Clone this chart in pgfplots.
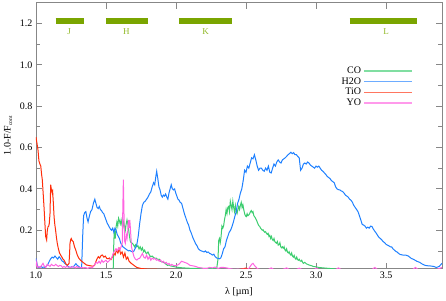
\documentclass[border=0pt]{standalone}
\usepackage{pgfplots}
\pgfplotsset{compat=1.18}
\usepackage{pgfplotstable}
\usepackage{fontspec}
\setmainfont{Liberation Serif}
\definecolor{coc}{RGB}{60,205,110}
\definecolor{h2oc}{RGB}{30,128,255}
\definecolor{tioc}{RGB}{255,45,10}
\definecolor{yoc}{RGB}{255,100,225}
\definecolor{bandc}{RGB}{122,165,0}
\definecolor{bandl}{RGB}{145,185,40}
\definecolor{axc}{RGB}{135,135,135}

\pgfplotstableread{
x y
1.000 0.064
1.008 0.035
1.015 0.022
1.025 0.020
1.035 0.025
1.045 0.020
1.055 0.022
1.065 0.020
1.075 0.028
1.085 0.035
1.095 0.050
1.105 0.062
1.115 0.070
1.125 0.066
1.135 0.075
1.145 0.068
1.155 0.060
1.165 0.072
1.175 0.064
1.185 0.052
1.195 0.048
1.205 0.040
1.215 0.035
1.225 0.028
1.235 0.022
1.245 0.020
1.255 0.024
1.265 0.022
1.275 0.030
1.285 0.038
1.295 0.030
1.305 0.025
1.318 0.018
1.326 0.020
1.334 0.180
1.340 0.270
1.348 0.285
1.356 0.290
1.364 0.260
1.372 0.240
1.380 0.265
1.390 0.290
1.400 0.300
1.410 0.330
1.420 0.350
1.428 0.330
1.436 0.310
1.445 0.305
1.452 0.315
1.460 0.300
1.468 0.295
1.476 0.285
1.484 0.280
1.492 0.265
1.500 0.250
1.508 0.235
1.516 0.225
1.524 0.215
1.532 0.205
1.540 0.200
1.548 0.210
1.556 0.190
1.564 0.210
1.572 0.200
1.580 0.180
1.588 0.170
1.596 0.160
1.604 0.140
1.612 0.130
1.620 0.120
1.630 0.115
1.640 0.110
1.650 0.105
1.660 0.100
1.670 0.102
1.680 0.098
1.690 0.095
1.700 0.100
1.710 0.115
1.720 0.130
1.730 0.170
1.740 0.230
1.750 0.280
1.760 0.320
1.770 0.335
1.780 0.340
1.790 0.350
1.800 0.360
1.810 0.375
1.820 0.385
1.830 0.410
1.840 0.430
1.848 0.420
1.856 0.460
1.862 0.485
1.870 0.450
1.878 0.410
1.886 0.395
1.894 0.370
1.902 0.360
1.910 0.370
1.918 0.365
1.926 0.375
1.934 0.360
1.942 0.350
1.950 0.380
1.958 0.400
1.966 0.420
1.974 0.400
1.982 0.395
1.990 0.400
1.998 0.380
2.006 0.365
2.014 0.350
2.022 0.345
2.030 0.335
2.040 0.330
2.050 0.305
2.060 0.280
2.070 0.260
2.080 0.240
2.090 0.225
2.100 0.200
2.110 0.185
2.120 0.165
2.130 0.150
2.140 0.135
2.150 0.125
2.160 0.110
2.170 0.104
2.180 0.100
2.190 0.098
2.200 0.095
2.210 0.100
2.220 0.092
2.230 0.095
2.240 0.088
2.250 0.085
2.260 0.080
2.270 0.084
2.280 0.072
2.290 0.066
2.300 0.064
2.310 0.062
2.320 0.066
2.330 0.085
2.340 0.110
2.350 0.120
2.360 0.150
2.370 0.170
2.380 0.190
2.390 0.200
2.400 0.218
2.410 0.240
2.420 0.266
2.430 0.290
2.440 0.330
2.450 0.350
2.460 0.380
2.470 0.400
2.480 0.440
2.490 0.490
2.500 0.480
2.510 0.510
2.520 0.500
2.530 0.525
2.540 0.550
2.550 0.545
2.560 0.565
2.570 0.540
2.580 0.510
2.590 0.490
2.600 0.500
2.610 0.500
2.620 0.490
2.630 0.485
2.640 0.500
2.650 0.490
2.660 0.510
2.670 0.480
2.680 0.477
2.690 0.500
2.700 0.520
2.710 0.510
2.720 0.530
2.730 0.540
2.740 0.530
2.750 0.525
2.760 0.540
2.770 0.545
2.780 0.550
2.790 0.557
2.800 0.565
2.810 0.570
2.820 0.577
2.830 0.570
2.840 0.575
2.850 0.565
2.860 0.565
2.870 0.557
2.880 0.550
2.890 0.490
2.900 0.500
2.910 0.520
2.920 0.525
2.930 0.520
2.940 0.530
2.950 0.525
2.960 0.515
2.970 0.510
2.980 0.505
2.990 0.500
3.000 0.510
3.010 0.505
3.020 0.510
3.030 0.500
3.040 0.490
3.050 0.485
3.060 0.477
3.070 0.470
3.080 0.460
3.090 0.455
3.100 0.450
3.110 0.440
3.120 0.435
3.130 0.430
3.140 0.410
3.150 0.400
3.160 0.396
3.170 0.395
3.180 0.390
3.190 0.387
3.200 0.380
3.210 0.370
3.220 0.365
3.230 0.360
3.240 0.350
3.250 0.345
3.260 0.335
3.270 0.320
3.280 0.310
3.290 0.300
3.300 0.290
3.310 0.270
3.320 0.250
3.330 0.228
3.340 0.225
3.350 0.220
3.360 0.210
3.370 0.215
3.380 0.210
3.390 0.220
3.400 0.218
3.410 0.205
3.420 0.195
3.430 0.186
3.440 0.175
3.450 0.165
3.460 0.160
3.470 0.153
3.480 0.145
3.490 0.140
3.500 0.132
3.510 0.128
3.520 0.125
3.530 0.120
3.540 0.120
3.550 0.110
3.560 0.104
3.570 0.098
3.580 0.094
3.590 0.088
3.600 0.083
3.620 0.080
3.640 0.080
3.660 0.075
3.680 0.064
3.700 0.058
3.720 0.050
3.740 0.045
3.760 0.036
3.780 0.030
3.800 0.028
3.820 0.027
3.840 0.025
3.860 0.020
3.880 0.025
3.900 0.040
}\htwoo

\pgfplotstableread{
x y
1.545 0.005
1.552 0.020
1.556 0.150
1.560 0.200
1.566 0.160
1.572 0.217
1.578 0.240
1.584 0.220
1.590 0.258
1.596 0.245
1.602 0.230
1.608 0.250
1.614 0.226
1.620 0.210
1.626 0.240
1.632 0.220
1.638 0.200
1.644 0.230
1.650 0.250
1.656 0.230
1.662 0.200
1.668 0.170
1.674 0.145
1.680 0.140
1.688 0.137
1.696 0.130
1.704 0.120
1.712 0.130
1.720 0.120
1.728 0.125
1.736 0.110
1.744 0.120
1.752 0.104
1.760 0.115
1.768 0.096
1.776 0.104
1.784 0.090
1.792 0.088
1.800 0.095
1.810 0.080
1.820 0.072
1.830 0.075
1.840 0.068
1.850 0.064
1.860 0.065
1.870 0.058
1.880 0.060
1.890 0.050
1.900 0.048
1.910 0.045
1.920 0.040
1.930 0.035
1.940 0.030
1.950 0.032
1.960 0.028
1.980 0.025
2.000 0.022
2.020 0.020
2.050 0.018
2.100 0.016
2.150 0.015
2.200 0.015
2.250 0.015
2.290 0.012
2.300 0.060
2.305 0.150
2.310 0.160
2.316 0.140
2.322 0.170
2.328 0.220
2.334 0.210
2.340 0.220
2.346 0.250
2.352 0.270
2.358 0.300
2.364 0.280
2.370 0.310
2.376 0.315
2.382 0.290
2.388 0.340
2.394 0.320
2.400 0.300
2.406 0.340
2.412 0.310
2.418 0.290
2.424 0.320
2.430 0.290
2.436 0.280
2.442 0.300
2.448 0.315
2.454 0.300
2.460 0.320
2.466 0.335
2.472 0.310
2.478 0.323
2.484 0.300
2.490 0.280
2.496 0.270
2.502 0.266
2.508 0.280
2.514 0.270
2.520 0.274
2.526 0.280
2.532 0.290
2.538 0.295
2.544 0.285
2.550 0.290
2.556 0.270
2.562 0.265
2.568 0.258
2.574 0.250
2.580 0.240
2.586 0.230
2.592 0.222
2.598 0.218
2.604 0.210
2.610 0.205
2.616 0.200
2.622 0.202
2.628 0.195
2.634 0.190
2.640 0.193
2.646 0.185
2.652 0.180
2.658 0.185
2.664 0.170
2.670 0.175
2.676 0.160
2.682 0.170
2.688 0.155
2.694 0.150
2.700 0.160
2.706 0.145
2.712 0.140
2.718 0.137
2.724 0.145
2.730 0.128
2.736 0.130
2.742 0.140
2.748 0.120
2.754 0.115
2.760 0.120
2.766 0.113
2.772 0.120
2.778 0.105
2.784 0.100
2.790 0.110
2.796 0.095
2.802 0.090
2.808 0.096
2.814 0.085
2.820 0.080
2.826 0.090
2.832 0.075
2.838 0.070
2.844 0.078
2.850 0.065
2.856 0.060
2.862 0.070
2.868 0.058
2.874 0.055
2.880 0.060
2.886 0.052
2.892 0.050
2.898 0.055
2.904 0.045
2.910 0.040
2.920 0.045
2.930 0.038
2.940 0.035
2.950 0.032
2.960 0.030
2.970 0.028
2.980 0.025
3.000 0.023
3.020 0.020
3.050 0.018
3.100 0.015
3.150 0.012
3.200 0.005
}\co

\pgfplotstableread{
x y
1.000 0.650
1.007 0.620
1.014 0.590
1.021 0.535
1.028 0.520
1.034 0.510
1.040 0.470
1.045 0.444
1.051 0.380
1.057 0.315
1.063 0.240
1.069 0.170
1.076 0.153
1.081 0.200
1.086 0.217
1.091 0.220
1.095 0.234
1.100 0.280
1.105 0.420
1.109 0.400
1.112 0.396
1.116 0.380
1.119 0.387
1.124 0.330
1.129 0.266
1.134 0.230
1.140 0.200
1.146 0.165
1.152 0.137
1.160 0.110
1.168 0.090
1.176 0.080
1.185 0.070
1.193 0.060
1.200 0.056
1.208 0.045
1.216 0.035
1.224 0.031
1.231 0.035
1.236 0.040
1.240 0.090
1.243 0.137
1.248 0.155
1.252 0.160
1.258 0.150
1.266 0.145
1.275 0.120
1.284 0.104
1.295 0.080
1.307 0.064
1.318 0.055
1.330 0.048
1.345 0.040
1.360 0.032
1.375 0.030
1.390 0.028
1.405 0.026
1.418 0.030
1.426 0.045
1.435 0.060
1.445 0.072
1.455 0.065
1.465 0.078
1.474 0.080
1.485 0.070
1.495 0.075
1.505 0.064
1.515 0.062
1.525 0.066
1.535 0.058
1.545 0.070
1.555 0.090
1.565 0.080
1.575 0.105
1.585 0.090
1.595 0.110
1.605 0.085
1.615 0.095
1.625 0.070
1.635 0.090
1.645 0.060
1.655 0.070
1.665 0.050
1.680 0.040
1.700 0.030
1.720 0.020
1.750 0.015
1.800 0.012
2.000 0.010
2.450 0.010
2.500 0.017
2.520 0.012
2.600 0.010
3.900 0.010
}\tio

\pgfplotstableread{
x y
1.000 0.025
1.005 0.045
1.010 0.020
1.020 0.025
1.030 0.020
1.040 0.030
1.050 0.040
1.060 0.025
1.070 0.020
1.080 0.035
1.090 0.030
1.100 0.025
1.110 0.035
1.120 0.030
1.130 0.028
1.140 0.035
1.150 0.030
1.160 0.025
1.170 0.030
1.180 0.028
1.190 0.020
1.200 0.025
1.210 0.020
1.220 0.025
1.230 0.022
1.240 0.020
1.250 0.020
1.260 0.025
1.270 0.022
1.280 0.018
1.290 0.025
1.300 0.020
1.310 0.022
1.320 0.018
1.330 0.020
1.340 0.018
1.350 0.020
1.360 0.018
1.370 0.015
1.380 0.020
1.390 0.020
1.400 0.018
1.410 0.025
1.420 0.035
1.430 0.045
1.440 0.040
1.450 0.050
1.460 0.040
1.470 0.055
1.480 0.045
1.490 0.050
1.500 0.055
1.510 0.045
1.520 0.050
1.530 0.060
1.540 0.065
1.550 0.085
1.560 0.100
1.570 0.110
1.580 0.100
1.590 0.115
1.600 0.105
1.610 0.125
1.616 0.137
1.620 0.300
1.624 0.444
1.628 0.300
1.632 0.150
1.638 0.137
1.644 0.180
1.650 0.160
1.656 0.200
1.660 0.250
1.664 0.210
1.670 0.250
1.676 0.190
1.682 0.120
1.690 0.096
1.700 0.072
1.710 0.060
1.720 0.056
1.730 0.062
1.740 0.064
1.750 0.075
1.760 0.088
1.770 0.070
1.780 0.065
1.790 0.080
1.800 0.060
1.810 0.072
1.820 0.055
1.830 0.065
1.840 0.060
1.850 0.064
1.860 0.055
1.870 0.058
1.880 0.050
1.890 0.056
1.900 0.045
1.910 0.050
1.920 0.040
1.930 0.045
1.940 0.035
1.950 0.040
1.960 0.030
1.970 0.035
1.980 0.030
2.000 0.028
2.020 0.035
2.040 0.050
2.060 0.045
2.080 0.040
2.100 0.030
2.120 0.028
2.140 0.025
2.160 0.020
2.180 0.018
2.200 0.015
2.220 0.015
2.240 0.020
2.260 0.018
2.280 0.022
2.300 0.015
2.320 0.020
2.340 0.020
2.360 0.018
2.380 0.015
2.400 0.012
2.420 0.010
2.440 0.012
2.460 0.010
2.480 0.012
2.500 0.010
2.520 0.015
2.540 0.035
2.550 0.040
2.560 0.030
2.580 0.015
2.600 0.010
2.660 0.010
2.680 0.018
2.700 0.010
2.760 0.010
2.790 0.018
2.810 0.010
2.860 0.010
2.880 0.017
2.900 0.010
2.990 0.010
3.000 0.017
3.020 0.010
3.140 0.010
3.160 0.018
3.180 0.010
3.400 0.010
3.420 0.020
3.440 0.010
3.690 0.010
3.710 0.020
3.730 0.010
3.860 0.010
3.880 0.015
3.900 0.020
}\yo

\begin{document}
\begin{tikzpicture}
\begin{axis}[
  scale only axis,
  width=406pt, height=266pt,
  xmin=1.0, xmax=3.9, ymin=0.014, ymax=1.3,
  xtick={1.0,1.5,2.0,2.5,3.0,3.5},
  ytick={0.2,0.4,0.6,0.8,1.0,1.2},
  minor ytick={0.1,0.3,0.5,0.7,0.9,1.1},
  xticklabels={1.0,1.5,2.0,2.5,3.0,3.5},
  yticklabels={0.2,0.4,0.6,0.8,1.0,1.2},
  tick align=inside,
  major tick length=6pt, minor tick length=4pt,
  tick style={axc, line width=0.8pt},
  axis line style={axc, line width=0.8pt},
  ticklabel style={font=\fontsize{10}{12}\selectfont},
  label style={font=\fontsize{10}{12}\selectfont},
  every axis x label/.style={at={(axis description cs:0.5,-0.0865)}, anchor=center},
  every axis y label/.style={at={(axis description cs:-0.069,0.5)}, rotate=90, anchor=center},
  xlabel={λ [µm]},
  ylabel={1.0-F/F\raisebox{-1.5pt}{\fontsize{5.5}{5.5}\selectfont cont}},
  legend plot pos=right,
  legend cell align=right,
  legend image code/.code={\draw[#1, line width=1.3pt, opacity=0.65] (0pt,0pt) -- (48pt,0pt);},
  legend style={at={(axis cs:3.69,1.0)}, anchor=north east, draw=none, fill=none,
    font=\fontsize{10}{10}\selectfont, row sep=-1.5pt, inner sep=0pt},
  every axis plot/.append style={line width=1pt},
]
\addplot[bandc, line width=6pt, forget plot] coordinates {(1.14,1.212) (1.34,1.212)};
\addplot[bandc, line width=6pt, forget plot] coordinates {(1.50,1.212) (1.80,1.212)};
\addplot[bandc, line width=6pt, forget plot] coordinates {(2.02,1.212) (2.40,1.212)};
\addplot[bandc, line width=6pt, forget plot] coordinates {(3.24,1.212) (3.72,1.212)};
\node[bandl, font=\fontsize{9}{9}\selectfont] at (axis cs:1.237,1.161) {J};
\node[bandl, font=\fontsize{9}{9}\selectfont] at (axis cs:1.645,1.161) {H};
\node[bandl, font=\fontsize{9}{9}\selectfont] at (axis cs:2.212,1.161) {K};
\node[bandl, font=\fontsize{9}{9}\selectfont] at (axis cs:3.50,1.161) {L};
\addplot[coc] table {\co};
\addlegendentry{CO}
\addplot[h2oc] table {\htwoo};
\addlegendentry{H2O}
\addplot[tioc] table {\tio};
\addlegendentry{TiO}
\addplot[yoc] table {\yo};
\addlegendentry{YO}
\end{axis}
\pgfresetboundingbox
\path ([shift={(-36pt,-31.3pt)}]current axis.south west) rectangle ([shift={(4pt,2.7pt)}]current axis.north east);
\end{tikzpicture}
\end{document}
